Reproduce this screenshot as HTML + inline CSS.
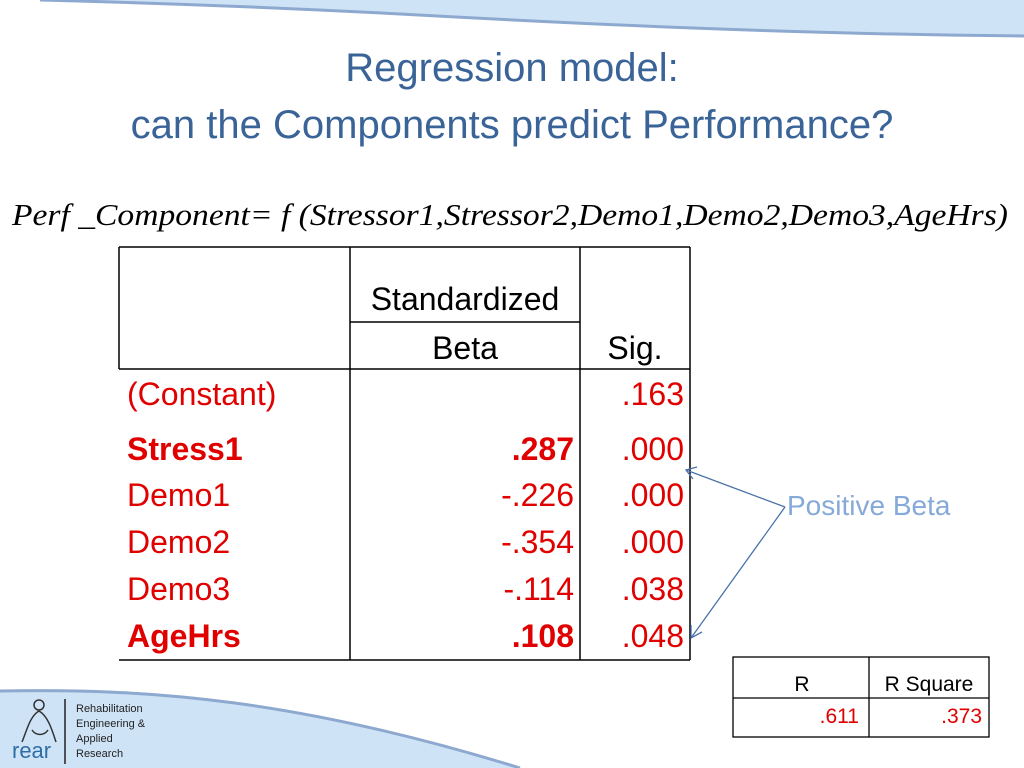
<!DOCTYPE html>
<html><head><meta charset="utf-8"><style>
html,body{margin:0;padding:0;background:#fff;}
svg{display:block;}
</style></head><body>
<svg width="1024" height="768" viewBox="0 0 1024 768" xmlns="http://www.w3.org/2000/svg">
<path d="M40 0 L1024 0 L1024 36 C800 34 600 25 400 14 C250 6 120 2 40 0 Z" fill="#cfe3f7"/>
<path d="M40 0 C120 2 250 6 400 14 C600 25 800 34 1024 36" fill="none" stroke="#8ea9cf" stroke-width="3"/>
<path d="M0 691 C150 688 300 700 520 768 L0 768 Z" fill="#cfe3f7"/>
<path d="M0 691 C150 688 300 700 520 768" fill="none" stroke="#8ea9cf" stroke-width="3"/>
<g fill="none" stroke="#333" stroke-width="1.5">
<circle cx="39" cy="705" r="5"/>
<path d="M39 711 C30 716 27 730 22 742 M39 711 C48 716 52 730 56 742 M32 730 C36 736 44 736 48 730"/>
</g>
<text x="12" y="758" font-family="Liberation Sans, sans-serif" font-size="22" fill="#2e6ea6">rear</text>
<line x1="65" y1="699" x2="65" y2="764" stroke="#222" stroke-width="1.5"/>
<g font-family="Liberation Sans, sans-serif" font-size="11" fill="#222">
<text x="76" y="712">Rehabilitation</text>
<text x="76" y="727">Engineering &amp;</text>
<text x="76" y="742">Applied</text>
<text x="76" y="757">Research</text>
</g>
<g font-family="Liberation Sans, sans-serif" font-size="40" fill="#3a6397" text-anchor="middle">
<text x="512" y="81">Regression model:</text>
<text x="512" y="138">can the Components predict Performance?</text>
</g>
<text x="12" y="225" font-family="Liberation Serif, serif" font-style="italic" font-size="31" fill="#000" textLength="996" lengthAdjust="spacingAndGlyphs">Perf _Component= f (Stressor1,Stressor2,Demo1,Demo2,Demo3,AgeHrs)</text>
<g stroke="#000" stroke-width="1.5">
<line x1="119" y1="247" x2="690" y2="247"/>
<line x1="119" y1="369" x2="690" y2="369"/>
<line x1="119" y1="660" x2="690" y2="660"/>
<line x1="350" y1="322" x2="580" y2="322"/>
<line x1="119" y1="247" x2="119" y2="369"/>
<line x1="350" y1="247" x2="350" y2="660"/>
<line x1="580" y1="247" x2="580" y2="660"/>
<line x1="690" y1="247" x2="690" y2="660"/>
</g>
<g font-family="Liberation Sans, sans-serif" font-size="32" fill="#000">
<text x="465" y="310" text-anchor="middle">Standardized</text>
<text x="465" y="359" text-anchor="middle">Beta</text>
<text x="635" y="359" text-anchor="middle">Sig.</text>
</g>
<g font-family="Liberation Sans, sans-serif" font-size="32" fill="#e00000">
<text x="127" y="405">(Constant)</text>
<text x="127" y="460" font-weight="bold">Stress1</text>
<text x="127" y="506">Demo1</text>
<text x="127" y="553">Demo2</text>
<text x="127" y="600">Demo3</text>
<text x="127" y="647" font-weight="bold">AgeHrs</text>
<g text-anchor="end">
<text x="574" y="460" font-weight="bold">.287</text>
<text x="574" y="506">-.226</text>
<text x="574" y="553">-.354</text>
<text x="574" y="600">-.114</text>
<text x="574" y="647" font-weight="bold">.108</text>
<text x="684" y="405">.163</text>
<text x="684" y="460">.000</text>
<text x="684" y="506">.000</text>
<text x="684" y="553">.000</text>
<text x="684" y="600">.038</text>
<text x="684" y="647">.048</text>
</g>
</g>
<g stroke="#4a72aa" stroke-width="1.3" fill="none">
<line x1="785" y1="507" x2="686" y2="470"/>
<path d="M697 467 L686 470 L693 479"/>
<line x1="785" y1="507" x2="691" y2="638"/>
<path d="M691 625 L691 638 L702 632"/>
</g>
<text x="787" y="515" font-family="Liberation Sans, sans-serif" font-size="28" fill="#85a9d8">Positive Beta</text>
<g stroke="#000" stroke-width="1.3" fill="none">
<rect x="733" y="657" width="256" height="80"/>
<line x1="733" y1="698" x2="989" y2="698"/>
<line x1="869" y1="657" x2="869" y2="737"/>
</g>
<g font-family="Liberation Sans, sans-serif" font-size="21">
<text x="802" y="691" text-anchor="middle" fill="#000">R</text>
<text x="929" y="691" text-anchor="middle" fill="#000">R Square</text>
<text x="859" y="723" text-anchor="end" fill="#e00000">.611</text>
<text x="982" y="723" text-anchor="end" fill="#e00000">.373</text>
</g>
</svg>
</body></html>
